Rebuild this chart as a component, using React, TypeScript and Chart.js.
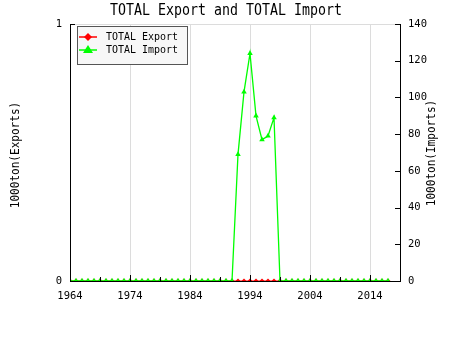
import React, { useEffect, useRef } from "react";
import { Chart, registerables } from "chart.js";

Chart.register(...registerables);

const years: number[] = [];
for (let y = 1964; y <= 2017; y++) years.push(y);

// Imports (1000 ton), 1964..2017; non-zero only 1992..1998
const importValues: number[] = [
  0, 0, 0, 0, 0, 0, 0, 0, 0, 0, // 1964-1973
  0, 0, 0, 0, 0, 0, 0, 0, 0, 0, // 1974-1983
  0, 0, 0, 0, 0, 0, 0, 0, // 1984-1991
  69, 103, 124, 90, 77, 79, 89, // 1992-1998
  0, 0, 0, 0, 0, 0, 0, 0, 0, 0, // 1999-2008
  0, 0, 0, 0, 0, 0, 0, 0, 0, // 2009-2017
];
const exportValues: number[] = years.map(() => 0);

const xTickLabels = [1964, 1974, 1984, 1994, 2004, 2014];
const xMinorTicks = [1969, 1979, 1989, 1999, 2009];
const leftTicks = [0, 1];
const rightTicks = [0, 20, 40, 60, 80, 100, 120, 140];

const titleText = "TOTAL Export and TOTAL Import";
const leftTitle = "1000ton(Exports)";
const rightTitle = "1000ton(Imports)";
const FONT = "'DejaVu Sans Mono', monospace";

export default function App() {
  const ref = useRef<HTMLCanvasElement | null>(null);
  useEffect(() => {
    if (!ref.current) return;
    const decor = {
      id: "decor",
      afterDraw(chart: any) {
        const ctx = chart.ctx;
        const x = chart.scales.x;
        const y = chart.scales.y;
        const y2 = chart.scales.y2;
        const ca = chart.chartArea;
        ctx.save();
        ctx.strokeStyle = "#000";
        ctx.lineWidth = 1;
        // tick marks
        ctx.beginPath();
        for (const v of leftTicks) {
          const p = Math.round(y.getPixelForValue(v)) + 0.5;
          ctx.moveTo(ca.left, p);
          ctx.lineTo(ca.left + 5, p);
        }
        for (const v of rightTicks) {
          const p = Math.round(y2.getPixelForValue(v)) + 0.5;
          ctx.moveTo(ca.right, p);
          ctx.lineTo(ca.right - 5, p);
        }
        for (const v of xTickLabels) {
          const p = Math.round(x.getPixelForValue(v)) + 0.5;
          ctx.moveTo(p, ca.bottom);
          ctx.lineTo(p, ca.bottom - 6);
        }
        for (const v of xMinorTicks) {
          const p = Math.round(x.getPixelForValue(v)) + 0.5;
          ctx.moveTo(p, ca.bottom);
          ctx.lineTo(p, ca.bottom - 4);
        }
        ctx.stroke();

        // title (narrow, tall glyphs)
        ctx.fillStyle = "#000";
        ctx.save();
        ctx.translate(226, 11);
        ctx.scale(0.885, 1);
        ctx.font = `15px ${FONT}`;
        ctx.textAlign = "center";
        ctx.textBaseline = "middle";
        ctx.fillText(titleText, 0, 0);
        ctx.restore();

        // axis titles
        ctx.font = `12px ${FONT}`;
        ctx.textAlign = "center";
        ctx.textBaseline = "middle";
        ctx.save();
        ctx.translate(16, 155);
        ctx.rotate(-Math.PI / 2);
        ctx.scale(0.92, 1);
        ctx.fillText(leftTitle, 0, 0);
        ctx.restore();
        ctx.save();
        ctx.translate(432, 153);
        ctx.rotate(-Math.PI / 2);
        ctx.scale(0.92, 1);
        ctx.fillText(rightTitle, 0, 0);
        ctx.restore();

        // legend
        const lx = 77.5, ly = 26.5, lw = 110, lh = 38;
        ctx.fillStyle = "#f7f7f7";
        ctx.fillRect(lx, ly, lw, lh);
        ctx.strokeStyle = "#555";
        ctx.strokeRect(lx, ly, lw, lh);
        const items = chart.data.datasets;
        items.forEach((ds: any, i: number) => {
          const cy = 37 + i * 13;
          ctx.strokeStyle = ds.borderColor;
          ctx.lineWidth = 1.5;
          ctx.beginPath();
          ctx.moveTo(79, cy);
          ctx.lineTo(97, cy);
          ctx.stroke();
          ctx.fillStyle = ds.backgroundColor;
          ctx.beginPath();
          if (ds.pointStyle === "rectRot") {
            ctx.moveTo(88, cy - 4);
            ctx.lineTo(92, cy);
            ctx.lineTo(88, cy + 4);
            ctx.lineTo(84, cy);
          } else {
            ctx.moveTo(88, cy - 5);
            ctx.lineTo(93, cy + 3);
            ctx.lineTo(83, cy + 3);
          }
          ctx.closePath();
          ctx.fill();
          ctx.fillStyle = "#000";
          ctx.save();
          ctx.translate(106, cy + 0.5);
          ctx.scale(0.95, 1);
          ctx.font = `10.5px ${FONT}`;
          ctx.textAlign = "left";
          ctx.textBaseline = "middle";
          ctx.fillText(ds.label, 0, 0);
          ctx.restore();
        });
        ctx.restore();
      },
    };

    const chart = new Chart(ref.current, {
      type: "line",
      data: {
        datasets: [
          {
            label: "TOTAL Export",
            data: years.map((yr, i) => ({ x: yr, y: exportValues[i] })),
            borderColor: "#ff0000",
            backgroundColor: "#ff0000",
            pointStyle: "rectRot",
            pointRadius: 2.5,
            pointBorderWidth: 0,
            borderWidth: 1.2,
            yAxisID: "y",
            order: 1,
          },
          {
            label: "TOTAL Import",
            data: years.map((yr, i) => ({ x: yr, y: importValues[i] })),
            borderColor: "#00ff00",
            backgroundColor: "#00ff00",
            pointStyle: "triangle",
            pointRadius: 3.2,
            pointBorderWidth: 0,
            borderWidth: 1.3,
            yAxisID: "y2",
            order: 0,
          },
        ],
      },
      options: {
        responsive: false,
        animation: false,
        layout: { padding: { top: 24, left: 0, right: 0, bottom: 0 } },
        plugins: { legend: { display: false }, title: { display: false }, tooltip: { enabled: false } },
        scales: {
          x: {
            type: "linear",
            min: 1964,
            max: 2019,
            afterFit: (s: any) => { s.height = 69; },
            afterBuildTicks: (s: any) => { s.ticks = xTickLabels.map((v) => ({ value: v })); },
            grid: {
              drawTicks: false,
              color: (c: any) => (c.tick && c.tick.value === 1964 ? "rgba(0,0,0,0)" : "#dcdcdc"),
            },
            border: { color: "#000", width: 1 },
            ticks: {
              padding: 9,
              color: "#000",
              font: { family: FONT, size: 10.5 },
              maxRotation: 0,
              autoSkip: false,
              callback: (v: any) => String(v),
            },
          },
          y: {
            type: "linear",
            position: "left",
            min: 0,
            max: 1,
            afterFit: (s: any) => { s.width = 70; },
            afterBuildTicks: (s: any) => { s.ticks = leftTicks.map((v) => ({ value: v })); },
            grid: {
              drawTicks: false,
              color: (c: any) => (c.tick && c.tick.value === 1 ? "#dcdcdc" : "rgba(0,0,0,0)"),
            },
            border: { color: "#000", width: 1 },
            ticks: { padding: 8, color: "#000", font: { family: FONT, size: 10.5 } },
          },
          y2: {
            type: "linear",
            position: "right",
            min: 0,
            max: 140,
            afterFit: (s: any) => { s.width = 50; },
            afterBuildTicks: (s: any) => { s.ticks = rightTicks.map((v) => ({ value: v })); },
            grid: { drawTicks: false, drawOnChartArea: false },
            border: { color: "#000", width: 1 },
            ticks: { padding: 8, color: "#000", font: { family: FONT, size: 10.5 } },
          },
        },
      },
      plugins: [decor],
    } as any);
    return () => chart.destroy();
  }, []);

  return (
    <div style={{ position: "fixed", left: 0, top: 0, width: 450, height: 350, background: "#fff" }}>
      <canvas ref={ref} width={450} height={350} style={{ width: 450, height: 350, display: "block" }} />
    </div>
  );
}
